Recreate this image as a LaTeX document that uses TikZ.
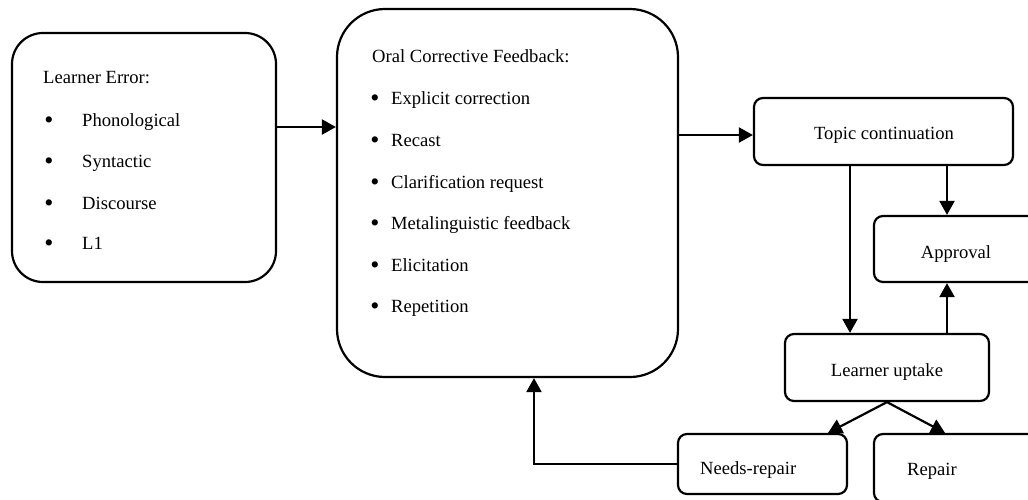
\documentclass[tikz,border=0pt]{standalone}
\usepackage{fontspec}
\setmainfont{Liberation Serif}
\usetikzlibrary{arrows.meta}
\begin{document}
\begin{tikzpicture}[x=1pt,y=-1pt,
  box/.style={draw, line width=2.2pt, rounded corners=#1, inner sep=0pt, fill=white},
  txt/.style={anchor=base west, inner sep=0pt, font=\fontsize{18.6}{22}\selectfont},
  ctxt/.style={anchor=base, inner sep=0pt, font=\fontsize{18.6}{22}\selectfont},
  bul/.style={anchor=base, inner sep=0pt, font=\fontsize{26}{28}\selectfont, yshift=-2.5pt},
  arr/.style={line width=2.2pt, -{Triangle[length=14pt,width=15pt]}}
]
\useasboundingbox (0,0) rectangle (1028,499);
\clip (0,0) rectangle (1028,499);
% boxes
\node[box=31pt, minimum width=264pt, minimum height=249pt] (le) at (144,157.5) {};
\node[box=48pt, minimum width=341pt, minimum height=368pt] (ocf) at (507.5,193) {};
\node[box=9pt, minimum width=259pt, minimum height=67pt] (topic) at (883.5,131.5) {};
\node[box=9pt, minimum width=170pt, minimum height=66pt] (appr) at (959,249) {};
\node[box=9pt, minimum width=204pt, minimum height=67pt] (upt) at (887,367.5) {};
\node[box=9pt, minimum width=169pt, minimum height=60pt] (nr) at (762.5,464) {};
\node[box=9pt, minimum width=170pt, minimum height=68pt] (rep) at (959,468) {};
% Learner Error text
\node[txt] (leT) at (43,83) {Learner Error:};
\node[bul] (leb1) at (49,126) {•};
\node[txt] (le1) at (82,126) {Phonological};
\node[bul] (leb2) at (49,167) {•};
\node[txt] (le2) at (82,167) {Syntactic};
\node[bul] (leb3) at (49,209) {•};
\node[txt] (le3) at (82,209) {Discourse};
\node[bul] (leb4) at (49,249) {•};
\node[txt] (le4) at (82,249) {L1};
% OCF text
\node[txt] (ocT) at (372,62) {Oral Corrective Feedback:};
\node[bul] (ocb1) at (375,104) {•};
\node[txt] (oc1) at (391,104) {Explicit correction};
\node[bul] (ocb2) at (375,146) {•};
\node[txt] (oc2) at (391,146) {Recast};
\node[bul] (ocb3) at (375,188) {•};
\node[txt] (oc3) at (391,188) {Clarification request};
\node[bul] (ocb4) at (375,229) {•};
\node[txt] (oc4) at (391,229) {Metalinguistic feedback};
\node[bul] (ocb5) at (375,271) {•};
\node[txt] (oc5) at (391,271) {Elicitation};
\node[bul] (ocb6) at (375,312) {•};
\node[txt] (oc6) at (391,312) {Repetition};
% small box texts
\node[ctxt] (topicT) at (884,139) {Topic continuation};
\node[ctxt] (apprT) at (956,258) {Approval};
\node[ctxt] (uptT) at (887,376) {Learner uptake};
\node[txt] (nrT) at (700,474) {Needs-repair};
\node[txt] (repT) at (907,475) {Repair};
% connectors
\draw[arr] (le.east |- 0,127) -- (ocf.west |- 0,127);
\draw[arr] (ocf.east |- 0,135) -- (topic.west |- 0,135);
\draw[arr] (topic.south -| 947,0) -- (appr.north -| 947,0);
\draw[arr] (topic.south -| 850,0) -- (upt.north -| 850,0);
\draw[arr] (upt.north -| 947,0) -- (appr.south -| 947,0);
\draw[arr] (upt.south) -- (nr.north -| 828,0);
\draw[arr] (upt.south) -- (rep.north -| 945,0);
\draw[arr] (nr.west) -| (ocf.south -| 534,0);
\end{tikzpicture}
\end{document}
